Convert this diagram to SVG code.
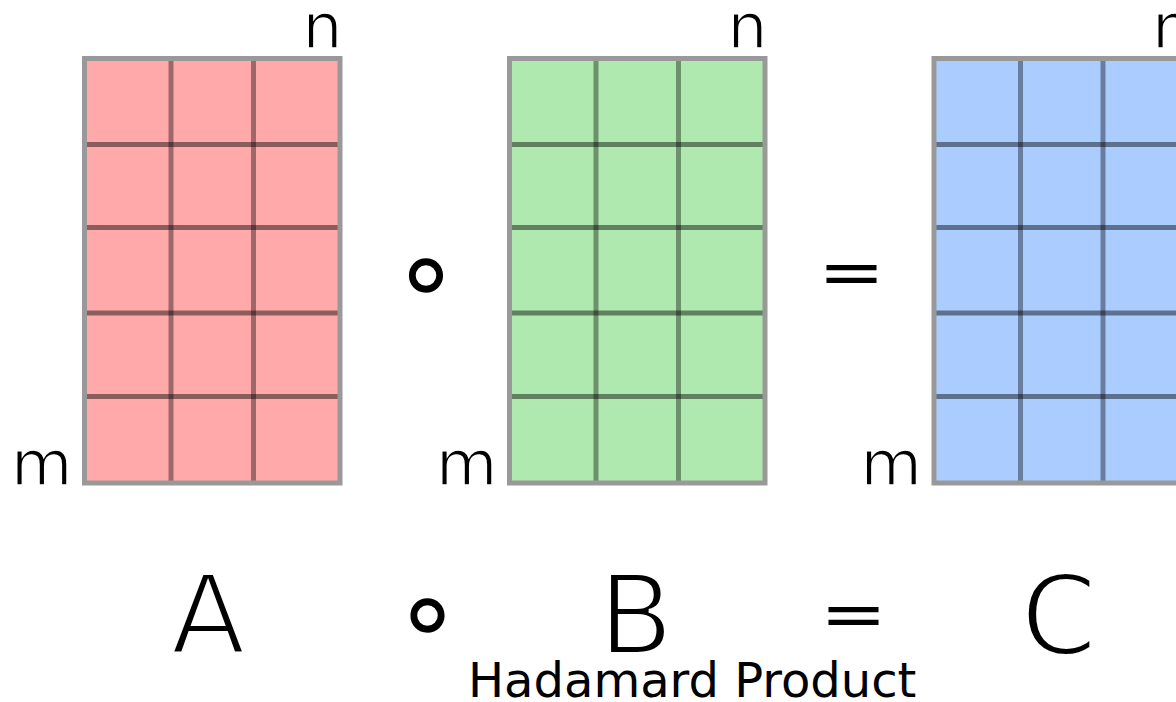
<svg xmlns="http://www.w3.org/2000/svg" xmlns:xlink="http://www.w3.org/1999/xlink" width="1176" height="702" viewBox="0 0 1176 702">
<style>
.t{font-family:"DejaVu Sans",sans-serif;fill:#000}
.lbl{font-size:63px;stroke:#fff;stroke-width:1.5}
.big{font-size:110px;text-anchor:middle;stroke:#fff;stroke-width:4}
.op{text-anchor:middle}
.eq{font-size:80px;text-anchor:middle}
.vline{stroke:#000;stroke-opacity:0.38;stroke-width:5}
.hline{stroke:#000;stroke-opacity:0.45;stroke-width:5}
.frame{fill:none;stroke:#999;stroke-width:5}
</style>
<defs>
<g id="grid">
<line class="vline" x1="171" y1="58.5" x2="171" y2="483"/>
<line class="vline" x1="253.5" y1="58.5" x2="253.5" y2="483"/>
<line class="hline" x1="84.5" y1="144.5" x2="340" y2="144.5"/>
<line class="hline" x1="84.5" y1="227.5" x2="340" y2="227.5"/>
<line class="hline" x1="84.5" y1="313" x2="340" y2="313"/>
<line class="hline" x1="84.5" y1="396.5" x2="340" y2="396.5"/>
<rect class="frame" x="84.5" y="58.5" width="255.5" height="424.5"/>
</g>
</defs>
<rect width="1176" height="702" fill="#fff"/>
<g id="matrix-a">
<rect x="84.5" y="58.5" width="255.5" height="424.5" fill="#ffa9aa"/>
<use xlink:href="#grid"/>
<text class="t lbl" x="302.5" y="48">n</text>
<text class="t lbl" x="11" y="484.5">m</text>
</g>
<g id="matrix-b" transform="translate(425,0)">
<rect x="84.5" y="58.5" width="255.5" height="424.5" fill="#b0e9b0"/>
<use xlink:href="#grid"/>
<text class="t lbl" x="302.5" y="48">n</text>
<text class="t lbl" x="11" y="484.5">m</text>
</g>
<g id="matrix-c" transform="translate(849.5,0)">
<rect x="84.5" y="58.5" width="255.5" height="424.5" fill="#aaccff"/>
<use xlink:href="#grid"/>
<text class="t lbl" x="302.5" y="48">n</text>
<text class="t lbl" x="11" y="484.5">m</text>
</g>
<g id="operators">
<text class="t op" x="426" y="310" font-size="110">∘</text>
<text class="t eq" transform="translate(851.5,273) scale(1,0.77)" x="0" y="27">=</text>
</g>
<g id="equation">
<text class="t big" x="208" y="654">A</text>
<text class="t op" x="427.5" y="650" font-size="110">∘</text>
<text class="t big" x="636" y="654">B</text>
<text class="t eq" transform="translate(853.5,615) scale(1,0.77)" x="0" y="27">=</text>
<text class="t big" x="1059" y="654">C</text>
</g>
<g id="caption">
<text class="t" x="468" y="697" font-size="48">Hadamard Product</text>
</g>
</svg>
